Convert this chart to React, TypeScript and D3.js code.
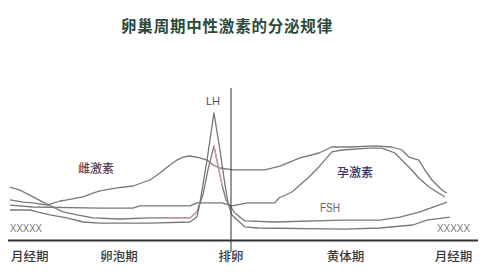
import React from "react";
import * as d3 from "d3";

const W = 484;
const H = 272;

const title = "卵巢周期中性激素的分泌规律";
const phaseLabels = ["月经期", "卵泡期", "排卵", "黄体期", "月经期"];
const phaseDays = [1.25, 6.9, 14, 21.25, 28.1];
const ovulationDay = 14;

const estrogenDays = [0, 0.82, 1.46, 2.34, 3.17, 3.61, 4.62, 5.26, 5.7, 6.78, 7.79, 8.87, 9.5, 10.13, 10.58, 10.96, 11.4, 12.03, 12.48, 12.86, 13.3, 14.12, 15.2, 16.15, 17.1, 18.37, 19.57, 20.39, 21.53, 23.12, 24.19, 24.83, 25.27, 25.9, 26.28, 26.73, 27.36, 27.68];
const estrogenLevels = [26.7, 25.3, 24.7, 23.3, 26, 26.7, 28.7, 31.3, 32.7, 34.7, 36, 40, 44.7, 50, 53.3, 55.3, 56, 54.7, 53.3, 50, 48, 46.7, 46.7, 46.7, 49.3, 54.7, 58, 62, 62, 62.7, 62, 60, 55.3, 53.3, 46.7, 40, 33.3, 31.3];

const progesteroneDays = [0, 1.46, 5.7, 7.79, 8.23, 11.4, 11.84, 13.43, 14.06, 15.07, 16.78, 17.04, 17.86, 18.94, 19.57, 20.39, 21.03, 22.74, 23.56, 24.38, 25.27, 25.9, 26.54, 27.55];
const progesteroneLevels = [23.3, 22, 21.3, 21.3, 22.7, 22.7, 24.7, 24.7, 22.7, 24.7, 24.7, 28, 32, 42, 48.7, 58.7, 60, 61.3, 61.3, 58, 48.7, 41.3, 35.3, 28.7];

const fshDays = [0, 0.63, 1.46, 2.09, 2.72, 3.36, 4.24, 5.26, 6.97, 8.87, 10.0, 11.4, 11.84, 12.22, 12.54, 12.92, 13.17, 13.43, 13.68, 14.25, 14.88, 16.78, 21.03, 23.43, 24.7, 25.97, 27.68];
const fshLevels = [35.3, 33.3, 28.7, 25.3, 22, 18.7, 16.7, 14.7, 14, 14.7, 14.7, 14.7, 18.7, 30, 46.7, 62.7, 50, 36.7, 26.7, 18, 12.7, 12, 13.3, 13.3, 15.3, 18.7, 25.3];
const fshTintRanges = [[10.0, 11.85], [12.92, 13.45]];

const lhDays = [0, 1.27, 1.71, 2.53, 3.61, 4.62, 5.7, 8.87, 11.4, 11.84, 12.03, 12.48, 12.92, 13.3, 13.62, 13.81, 14.06, 14.88, 15.71, 21.22, 23.43, 25.52, 26.41, 27.87];
const lhLevels = [20, 20, 18.7, 16.7, 14.7, 12, 11.3, 11.3, 12, 15.3, 24.7, 53.3, 84.7, 60, 36.7, 24.7, 16.7, 8.7, 8, 7.3, 8, 10, 13.3, 15.3];

type Pt = [number, number];
const zip = (a: number[], b: number[]): Pt[] => a.map((d, i) => [d, b[i]]);

export default function App() {
  const x = d3.scaleLinear().domain([0, 28]).range([10, 452]);
  const y = d3.scaleLinear().domain([0, 100]).range([240, 90]);
  const line = d3
    .line<Pt>()
    .x((d) => x(d[0]))
    .y((d) => y(d[1]));

  const lineColor = "#787878";
  const fsh = zip(fshDays, fshLevels);
  const series: Pt[][] = [
    zip(lhDays, lhLevels),
    fsh,
    zip(progesteroneDays, progesteroneLevels),
    zip(estrogenDays, estrogenLevels),
  ];
  const tints = fshTintRanges.map(([a, b]) => fsh.filter((p) => p[0] >= a && p[0] <= b));

  const sans = "'Noto Sans CJK SC', 'Liberation Sans', sans-serif";

  return (
    <svg width={W} height={H} style={{ display: "block", position: "absolute", left: 0, top: 0 }}>
      <rect width={W} height={H} fill="#fff" />
      <text
        x={227}
        y={32}
        textAnchor="middle"
        fontFamily={sans}
        fontSize={15.5}
        fontWeight="bold"
        fill="#2c4a3c"
        letterSpacing={0.8}
      >
        {title}
      </text>

      {series.map((s, i) => (
        <path key={i} d={line(s) || ""} fill="none" stroke={lineColor} strokeWidth={1.3} strokeLinejoin="round" />
      ))}
      {tints.map((s, i) => (
        <path key={"t" + i} d={line(s) || ""} fill="none" stroke="#d9a3b0" strokeWidth={1.1} />
      ))}

      <line x1={x(ovulationDay)} x2={x(ovulationDay)} y1={88} y2={252} stroke="#333" strokeWidth={1} />
      <line x1={8} x2={478} y1={240.5} y2={240.5} stroke="#333" strokeWidth={2} />

      <text x={213} y={105} textAnchor="middle" fontFamily="'Liberation Sans', sans-serif" fontSize={11} fill="#555">
        LH
      </text>
      <text x={96} y={173} textAnchor="middle" fontFamily={sans} fontSize={12} fontWeight={500} fill="#5e3f4c">
        雌激素
      </text>
      <text x={355} y={177} textAnchor="middle" fontFamily={sans} fontSize={12} fontWeight={500} fill="#34346a">
        孕激素
      </text>
      <text x={330} y={212} textAnchor="middle" fontFamily="'Liberation Sans', sans-serif" fontSize={12} fill="#666" textLength={20} lengthAdjust="spacingAndGlyphs">
        FSH
      </text>
      <text x={10} y={232} fontFamily="'Liberation Sans', sans-serif" fontSize={11} fill="#777" textLength={32} lengthAdjust="spacingAndGlyphs">
        XXXXX
      </text>
      <text x={437} y={232} fontFamily="'Liberation Sans', sans-serif" fontSize={11} fill="#777" textLength={33} lengthAdjust="spacingAndGlyphs">
        XXXXX
      </text>

      {phaseLabels.map((t, i) => (
        <text
          key={i}
          x={x(phaseDays[i])}
          y={261}
          textAnchor="middle"
          fontFamily={sans}
          fontSize={12.5}
          fontWeight={500}
          fill="#383838"
        >
          {t}
        </text>
      ))}
    </svg>
  );
}
